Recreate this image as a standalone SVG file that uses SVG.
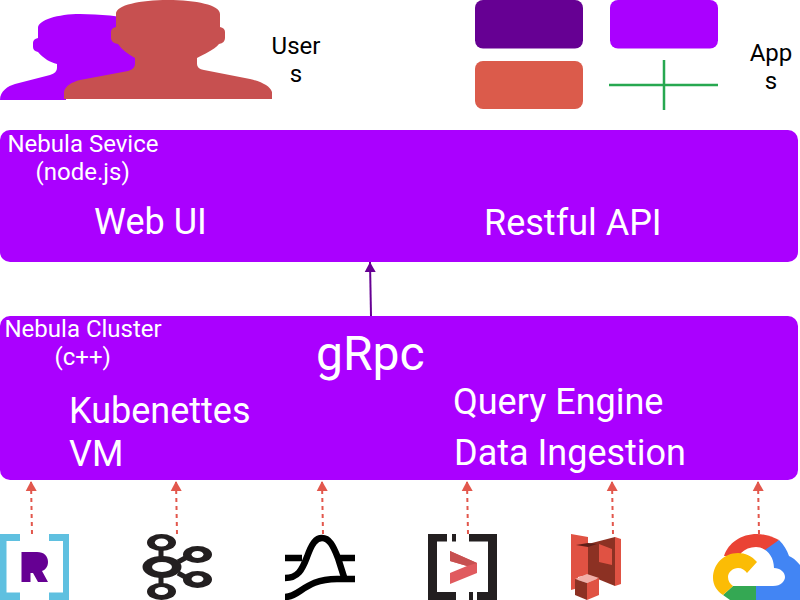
<svg xmlns="http://www.w3.org/2000/svg" width="800" height="600" viewBox="0 0 800 600">
<style>
text{font-family:Roboto,"Liberation Sans",sans-serif}
.w{fill:#fff}.k{fill:#000}
.dash{fill:none;stroke:#e2574c;stroke-width:2;stroke-dasharray:4 4;marker-end:url(#ar)}
.ln{fill:none;stroke:#000;stroke-width:6.500}
</style>
<defs>
<marker id="ar" markerUnits="userSpaceOnUse" markerWidth="12" markerHeight="12" refX="10" refY="6" orient="auto"><path d="M0,0.5L10,6L0,11.500Z" fill="#e2574c"/></marker>
<marker id="ap" markerUnits="userSpaceOnUse" markerWidth="12" markerHeight="12" refX="10" refY="6" orient="auto"><path d="M0,0.5L10,6L0,11.500Z" fill="#660093"/></marker>
</defs>
<g id="users">
<path fill="#aa00ff" d="M0,100C0,91 8,86 15,84L50,75Q57,73 57,68V64C50,62 44,59 38,52Q33,51 33,47V43Q33,39 38,38V28C38,20 58,14 80,14C100,14 120,16 140,20V70L66,90V100Z"/>
<path fill="#c75050" d="M64,99V92C65,86 72,82 80,80L128,71Q135,69 135,64V58C128,54 122,50 118,44Q111,43 111,38V32Q111,28 116,27V14C116,5 140,0 168,0C196,0 220,5 220,14V27Q225,28 225,32V38Q225,43 219,44C214,50 204,54 197,58V64Q197,69 204,70L250,79C262,82 270,86 272,92V99Z"/>
<text class="k" font-size="24" text-anchor="middle" x="296" y="54">User</text>
<text class="k" font-size="24" text-anchor="middle" x="296" y="82">s</text>
</g>
<g id="apps">
<rect x="475" y="0" width="108" height="48.500" rx="8" fill="#660093"/>
<rect x="610" y="0" width="108" height="48.500" rx="8" fill="#aa00ff"/>
<rect x="475" y="61" width="108" height="48" rx="8" fill="#db5b4b"/>
<path d="M609,85H718M664,60V110" fill="none" stroke="#27a850" stroke-width="2.500"/>
<text class="k" font-size="24" text-anchor="middle" x="771" y="61">App</text>
<text class="k" font-size="24" text-anchor="middle" x="771" y="89">s</text>
</g>
<g id="service">
<rect x="0" y="130" width="798" height="132" rx="10" fill="#aa00ff"/>
<text class="w" font-size="24" x="7.500" y="151.500">Nebula Sevice</text>
<text class="w" font-size="24" x="35.500" y="179.500">(node.js)</text>
<text class="w" font-size="36" x="94" y="233.500">Web UI</text>
<text class="w" font-size="36" x="484" y="234.500">Restful API</text>
</g>
<g id="cluster">
<rect x="0" y="316" width="798" height="164" rx="10" fill="#aa00ff"/>
<text class="w" font-size="24" x="4.500" y="337">Nebula Cluster</text>
<text class="w" font-size="24" x="54.500" y="365">(c++)</text>
<text class="w" font-size="48" x="316" y="370">gRpc</text>
<text class="w" font-size="36" x="69" y="422.500">Kubenettes</text>
<text class="w" font-size="36" x="69" y="466">VM</text>
<text class="w" font-size="36" x="453" y="414">Query Engine</text>
<text class="w" font-size="36" x="454" y="465">Data Ingestion</text>
</g>
<g id="connectors">
<path d="M371,316L370,262" fill="none" stroke="#660093" stroke-width="2" marker-end="url(#ap)"/>
<path class="dash" d="M32,534L31,481"/>
<path class="dash" d="M177,534L176,481"/>
<path class="dash" d="M323,534L322,481"/>
<path class="dash" d="M468,534L467,481"/>
<path class="dash" d="M613,534L612,481"/>
<path class="dash" d="M759,534L758,481"/>
</g>
<g id="redash">
<path fill="#5fc0e0" d="M0,534H20V541H6.500V592.500H20V600H0ZM49,534H69V600H49V592.500H63V541H49Z"/>
<path fill="#660093" d="M21.500,552H37C44,552 48,556 48,562C48,567 45,570 42,571L48,582H38L33,573H30.500V582H21.500Z"/>
</g>
<g id="kafka">
<path fill="none" stroke="#231f20" stroke-width="5" d="M161,549V558M161,577V586M178,562L187,557M178,573L187,578"/>
<g fill="#231f20">
<ellipse cx="161.500" cy="542.500" rx="14.500" ry="8.500"/>
<ellipse cx="162" cy="567" rx="19.500" ry="11"/>
<ellipse cx="161.500" cy="591.500" rx="14.500" ry="8.500"/>
<ellipse cx="197.500" cy="554.500" rx="14.500" ry="8.500"/>
<ellipse cx="197.500" cy="579.500" rx="14.500" ry="8.500"/>
</g>
<g fill="#fff">
<ellipse cx="161.500" cy="542.500" rx="6.700" ry="4"/>
<ellipse cx="162" cy="567" rx="10" ry="5"/>
<ellipse cx="161.500" cy="591" rx="6.700" ry="4"/>
<ellipse cx="197.500" cy="554.500" rx="6" ry="3.500"/>
<ellipse cx="197.500" cy="579" rx="6" ry="3.500"/>
</g>
</g>
<g id="flink">
<path class="ln" d="M285,558H302M338,558H355M285,578C298,578 302,570 307,557C312,543 316,538 322,538C329,538 333,545 338,558L344,577"/>
<path class="ln" d="M285,597C300,597 305,579 337,579H355"/>
</g>
<g id="bracket">
<path fill="#231f20" d="M428,534H447V541.500H437V592H456V600H428ZM452,534H456V541.500H452ZM469,534H497V600H477V592H488V541.500H469ZM469,592H473V600H469Z"/>
<path fill="#e05a5e" d="M450,551L477,563V573L450,584V573L467,566L450,561Z"/>
<path fill="#c75050" d="M450,551L477,563L467,566L450,561Z"/>
</g>
<g id="s3">
<path fill="#e05243" d="M571,534L588,537V575L578,577V588L571,590Z"/>
<path fill="#8c3123" d="M588,544L615,537V586L588,575Z"/>
<path fill="#e05243" d="M615,537L621,539V584L615,586ZM599,544L612,549V565L599,562Z"/>
<path fill="#5e1f18" d="M576,545L588,543L597,544L588,547Z"/>
<path fill="#f2b0a9" d="M575,579L587,574L599,578L587,583Z"/>
<path fill="#8c3123" d="M575,579L587,583V600L575,595Z"/>
<path fill="#e05243" d="M587,583L599,578V595L587,600Z"/>
</g>
<g id="gcloud">
<path fill="#ea4335" d="M724,556C728,543 741,534 757,534C765,534 773,537 779,540L764,556H730Z"/>
<path fill="#4285f4" d="M779,540L762,552L772,570L756,580V600H800V565C796,560 792,557 789,556C787,550 784,545 779,540Z"/>
<path fill="#34a853" d="M723,595L733,586H756V600H730Z"/>
<path fill="#fff" d="M733,586H773C781,586 785,581 785,577C785,572 780,568 774,568C774,555 765,547 756,547C750,547 745,549 741,553L738,568C733,568 728,572 728,577C728,582 731,586 738,586Z"/>
<path fill="#fbbc05" d="M757,562C752,556 745,553 738,553C724,553 713,564 713,578C713,585 717,591 723,595L733,586C730,584 728,581 728,577C728,572 733,568 738,568C742,568 745,570 747,573Z"/>
</g>
</svg>
